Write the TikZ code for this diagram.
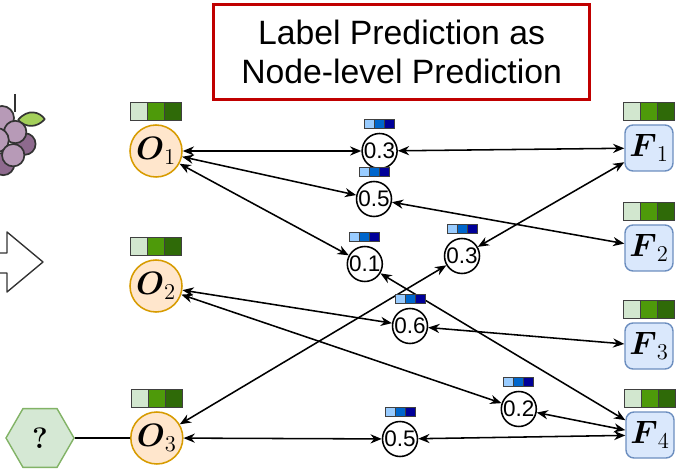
\RequirePackage{fix-cm}
\documentclass[tikz,border=0pt]{standalone}
\usepackage{amsmath}
\usepackage{fontspec}
\setsansfont{Liberation Sans}
\usepackage{tikz}
\usetikzlibrary{positioning,shapes.geometric,arrows.meta}

\definecolor{gA}{HTML}{D2E7CF}
\definecolor{gB}{HTML}{4E9A0A}
\definecolor{gC}{HTML}{2F6A08}
\definecolor{bA}{HTML}{99CCFF}
\definecolor{bB}{HTML}{0066CC}
\definecolor{bC}{HTML}{000099}
\definecolor{objfill}{HTML}{FFE6CC}
\definecolor{objline}{HTML}{D79B00}
\definecolor{featfill}{HTML}{DAE8FC}
\definecolor{featline}{HTML}{6C8EBF}
\definecolor{qfill}{HTML}{D5E8D4}
\definecolor{qline}{HTML}{82B366}
\definecolor{titlered}{HTML}{C00000}
\definecolor{grapeA}{HTML}{B79AB7}
\definecolor{grapeB}{HTML}{8E6A8E}
\definecolor{leaf}{HTML}{A3CF5A}

\tikzset{
  onode/.style={circle, draw=objline, fill=objfill, line width=1.1pt,
    minimum size=1.3cm, inner sep=0pt, font=\fontsize{23}{27}\selectfont},
  fnode/.style={rectangle, rounded corners=0.2cm, draw=featline, fill=featfill,
    line width=1pt, minimum width=1.2cm, minimum height=1.15cm, inner sep=0pt,
    font=\fontsize{23}{27}\selectfont},
  enode/.style={circle, draw=black, fill=white, line width=1.1pt,
    minimum size=0.875cm, inner sep=0pt, font=\sffamily\fontsize{16}{18}\selectfont},
  qnode/.style={regular polygon, regular polygon sides=6, draw=qline, fill=qfill,
    line width=1pt, minimum size=1.7cm, inner sep=0pt, font=\fontsize{21}{25}\selectfont\bfseries},
  link/.style={{Stealth[length=8pt,width=6.5pt]}-{Stealth[length=8pt,width=6.5pt]}, line width=1.1pt},
  plain/.style={line width=1.1pt},
  icon/.style={draw=black!80, line width=1.2pt, line join=round},
}

% three-cell class bars above a node
\newcommand{\labelbar}[1]{%
  \foreach \k/\c in {0/gA,1/gB,2/gC}
    \filldraw[fill=\c, draw=black!75, line width=0.8pt]
      ([xshift=\k*0.425cm-0.6375cm, yshift=0.1cm]#1.north) rectangle ++(0.425,0.45);
}
\newcommand{\scorebar}[1]{%
  \foreach \k/\c in {0/bA,1/bB,2/bC}
    \filldraw[fill=\c, draw=black!75, line width=0.7pt]
      ([xshift=\k*0.25cm-0.375cm, yshift=0.1cm]#1.north) rectangle ++(0.25,0.225);
}

\begin{document}
\begin{tikzpicture}
\useasboundingbox (0,0) rectangle (16.975,-11.9);
\clip (0,0) rectangle (16.975,-11.9);

% grapes, cut at the left edge
\draw[icon] (0.38,-2.35) -- (0.38,-2.8);
\draw[icon, fill=leaf] (0.45,-3.0) .. controls (0.7,-2.7) and (1.0,-2.8) .. (1.12,-2.98)
  .. controls (0.92,-3.2) and (0.65,-3.2) .. (0.45,-3.0);
\filldraw[icon, fill=grapeB] (0.08,-4.1) circle (0.28);
\filldraw[icon, fill=grapeA] (0.05,-2.95) circle (0.3);
\filldraw[icon, fill=grapeB] (0.62,-3.6) circle (0.27);
\filldraw[icon, fill=grapeA] (0.38,-3.3) circle (0.28);
\filldraw[icon, fill=grapeA] (-0.08,-3.5) circle (0.3);
\filldraw[icon, fill=grapeA] (0.33,-3.88) circle (0.28);

% arrow into the graph
\draw[icon, line width=1pt] (-0.2,-6.325) -- (0.175,-6.325) -- (0.175,-5.8) -- (1.075,-6.55)
  -- (0.175,-7.3) -- (0.175,-6.825) -- (-0.2,-6.825);

% title
\node[draw=titlered, line width=2.6pt, minimum width=9.4cm, minimum height=2.38cm,
  align=center, font=\sffamily\fontsize{24}{28}\selectfont] (title) at (10.04,-1.3)
  {Label Prediction as\\Node-level Prediction};

% object nodes
\node[onode] (O1) at (3.9,-3.775) {$\boldsymbol{O}_1$};
\node[onode] (O2) at (3.9,-7.15) {$\boldsymbol{O}_2$};
\node[onode] (O3) at (3.92,-10.95) {$\boldsymbol{O}_3$};
\node[qnode] (q) at (1.0,-10.95) {?};

% feature nodes
\node[fnode] (F1) at (16.225,-3.7) {$\boldsymbol{F}_1$};
\node[fnode] (F2) at (16.225,-6.2) {$\boldsymbol{F}_2$};
\node[fnode] (F3) at (16.225,-8.65) {$\boldsymbol{F}_3$};
\node[fnode] (F4) at (16.25,-10.875) {$\boldsymbol{F}_4$};

% edge nodes, named by object and feature
\node[enode] (e11) at (9.49,-3.775) {0.3};
\node[enode] (e12) at (9.35,-4.975) {0.5};
\node[enode] (e14) at (9.12,-6.6) {0.1};
\node[enode] (e31) at (11.55,-6.4) {0.3};
\node[enode] (e23) at (10.25,-8.15) {0.6};
\node[enode] (e24) at (12.97,-10.225) {0.2};
\node[enode] (e34) at (10.0,-10.975) {0.5};

\draw[plain] (q) -- (O3);
\foreach \o/\f in {1/1,1/2,1/4,3/1,2/3,2/4,3/4} {
  \draw[link] (O\o) -- (e\o\f);
  \draw[link] (e\o\f) -- (F\f);
}

\foreach \n in {O1,O2,O3,F1,F2,F3,F4} \labelbar{\n};
\foreach \n in {e11,e12,e14,e31,e23,e24,e34} \scorebar{\n};
\end{tikzpicture}
\end{document}
